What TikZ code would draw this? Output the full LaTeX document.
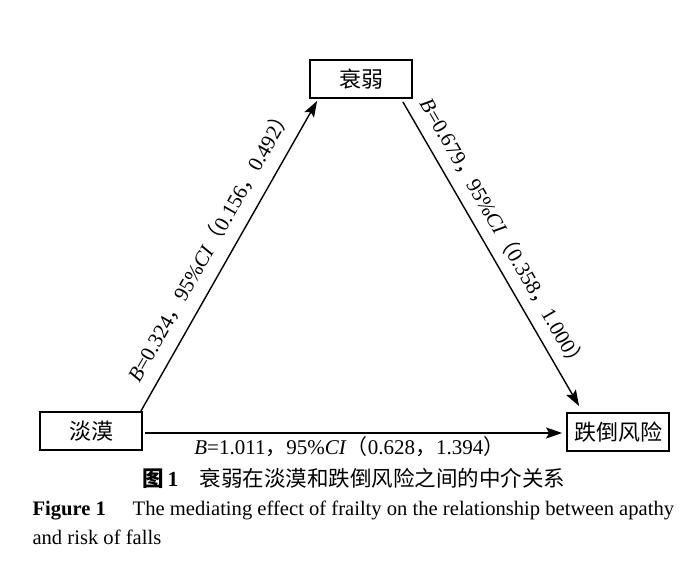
\documentclass[tikz,border=0pt]{standalone}
\usepackage{fontspec}
\setmainfont{Liberation Serif}
\newfontfamily\zhfont{Noto Sans CJK SC}
\usetikzlibrary{arrows.meta, positioning}
\newcommand{\zh}[1]{{\zhfont #1}}
\newcommand{\effect}[3]{\textit{B}=#1\zh{，}95\%\textit{CI}\zh{（}#2\zh{，}#3\zh{）}}

\begin{document}
\begin{tikzpicture}[x=1pt, y=1pt,
  box/.style={rectangle, draw, line width=1.8pt, minimum width=102pt, minimum height=38pt,
              font=\zhfont\fontsize{22}{26}\selectfont},
  arr/.style={-{Stealth[length=16pt, width=11pt, inset=3pt]}, line width=1.4pt},
  lbl/.style={font=\fontsize{21}{25}\selectfont, inner sep=0pt}
]
\useasboundingbox (0,0) rectangle (700,576);
% Boxes
\node[box] (frail)  at (361,497) {衰弱};
\node[box] (apathy) at (91,145)  {淡漠};
\node[box] (falls)  at (618,144) {跌倒风险};

% Paths
\draw[arr] ([xshift=-2pt]apathy.north east)
  -- node[lbl, sloped, pos=0.5, above=12pt]{\effect{0.324}{0.156}{0.492}}
  ([xshift=8pt,yshift=-2pt]frail.south west);
\draw[arr] ([xshift=-10pt,yshift=-3pt]frail.south east)
  -- node[lbl, sloped, pos=0.47, above=10pt]{\effect{0.679}{0.358}{1.000}}
  ([xshift=13pt,yshift=6pt]falls.north west);
\draw[arr] ([xshift=2pt,yshift=-2pt]apathy.east)
  -- node[lbl, pos=0.49, below=3pt]{\effect{1.011}{0.628}{1.394}}
  ([xshift=-4pt,yshift=-1pt]falls.west);

% Caption
\node[font=\fontsize{21.5}{25}\selectfont] (capzh) at (354,98)
  {{\zhfont\bfseries 图}\,\textbf{1}\hspace{1em}\zh{衰弱在淡漠和跌倒风险之间的中介关系}};
\node[font=\fontsize{20.6}{29}\selectfont, align=left, anchor=west] (capen) at (29,53)
  {\textbf{Figure 1}\hspace{1.3em}The mediating effect of frailty on the relationship between apathy\\and risk of falls};
\end{tikzpicture}
\end{document}
